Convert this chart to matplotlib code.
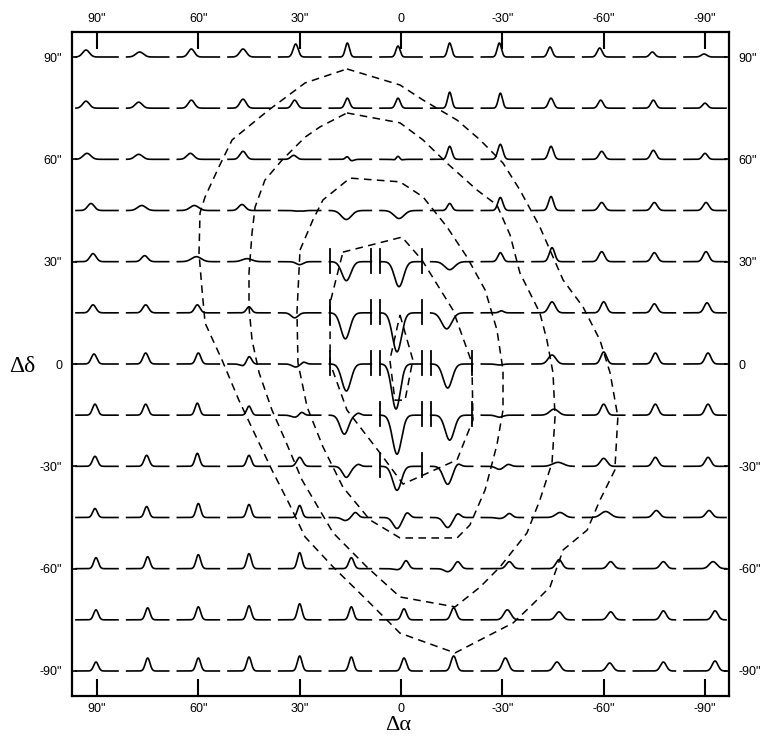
import numpy as np
import matplotlib
matplotlib.use("Agg")
import matplotlib.pyplot as plt

# Map grid offsets (arcsec)
ra_offsets = [90, 75, 60, 45, 30, 15, 0, -15, -30, -45, -60, -75, -90]
dec_offsets = [90, 75, 60, 45, 30, 15, 0, -15, -30, -45, -60, -75, -90]

tick_values = [90, 60, 30, 0, -30, -60, -90]
tick_labels = ['90"', '60"', '30"', '0', '-30"', '-60"', '-90"']

# Emission line per map position (rows: dec from +90 down, cols: ra from +90 to -90)
emission_peak = [
    [7, 5, 8, 8, 13, 14, 11, 14, 14, 10, 9, 5, 3],
    [7, 6, 8, 9, 8, 10, 10, 16, 15, 10, 8, 8, 5],
    [6, 5, 6, 8, 4, 3, 5, 13, 15, 13, 8, 9, 6],
    [7, 5, 5, 6, 1, 0, 0, 7, 13, 14, 8, 8, 8],
    [8, 6, 5, 3, 0, 0, 0, 0, 9, 14, 10, 9, 10],
    [8, 8, 8, 6, 0, 0, 0, 0, 2, 11, 11, 9, 10],
    [10, 11, 11, 8, 2, 0, 0, 0, 0, 9, 12, 11, 11],
    [11, 11, 12, 9, 3, 2, 0, 0, 0, 6, 11, 11, 11],
    [10, 11, 13, 11, 9, 2, 0, 3, 2, 4, 8, 9, 9],
    [9, 11, 14, 13, 12, 5, 5, 4, 4, 5, 6, 7, 7],
    [11, 12, 14, 15, 16, 11, 8, 7, 7, 9, 7, 7, 7],
    [10, 12, 13, 14, 16, 13, 11, 12, 10, 8, 8, 9, 9],
    [9, 13, 13, 14, 15, 14, 13, 15, 13, 9, 8, 9, 10],
]
emission_shift = [
    [-11, -8, -7, -6, -4, -3, -3, -2, -3, -3, -4, -2, -1],
    [-11, -9, -7, -6, -5, -3, -3, -2, -2, -2, -3, -1, 0],
    [-10, -9, -8, -6, -6, -3, -3, -2, -2, -2, -2, -1, 0],
    [-6, -6, -4, -7, 0, 0, 0, -2, -2, -2, -2, 0, 1],
    [-4, -3, -2, -2, 0, 0, 0, 0, -2, -1, -2, 0, 1],
    [-4, -2, -1, 0, 0, 0, 0, 0, -1, -1, 0, 0, 2],
    [-3, -2, 0, 0, 4, 0, 0, 0, 0, -1, 0, 1, 3],
    [-2, -2, -1, 0, 2, 8, 0, 0, 0, 1, 0, 1, 3],
    [-2, -1, -1, 0, 0, 8, 0, 6, 6, 5, 0, 1, 3],
    [-2, -1, 0, 0, 0, 5, 6, 6, 7, 7, 2, 2, 4],
    [-1, 0, 0, 0, 0, 1, 5, 6, 7, 6, 7, 9, 8],
    [-1, 0, 0, 0, 0, 1, 3, 2, 5, 6, 7, 9, 10],
    [-1, 0, 0, 0, 0, 1, 3, 2, 3, 4, 6, 9, 10],
]
emission_width = [
    [3.4, 3.8, 3.1, 3.3, 2.5, 2.1, 2.1, 2.1, 2.1, 2.3, 2.5, 2.5, 2.8],
    [3.3, 3.5, 3.1, 3.1, 2.7, 2.3, 2.3, 2.1, 2.1, 2.5, 2.5, 2.5, 2.5],
    [3.8, 3.8, 3.5, 3.1, 2.8, 1.8, 1.8, 2.3, 2.5, 2.5, 2.7, 2.7, 2.5],
    [3.3, 4.1, 4.3, 3.3, 2.3, 2.3, 2.3, 2.3, 2.5, 2.5, 2.9, 2.9, 2.9],
    [3.1, 3.1, 4.8, 4.8, 2.3, 2.3, 2.3, 2.3, 2.5, 2.7, 2.9, 2.9, 2.9],
    [2.9, 2.9, 2.7, 2.5, 2.3, 2.3, 2.3, 2.3, 2.3, 3.3, 2.9, 2.9, 2.9],
    [2.7, 2.7, 2.5, 2.5, 2.3, 2.3, 2.3, 2.3, 2.3, 3.8, 2.9, 2.9, 2.9],
    [2.5, 2.5, 2.3, 2.3, 2.3, 2.3, 2.3, 2.3, 2.3, 4.3, 2.9, 2.9, 2.9],
    [2.5, 2.5, 2.3, 2.3, 2.9, 2.3, 2.3, 2.8, 2.8, 5.3, 3.3, 2.9, 2.9],
    [2.3, 2.3, 2.3, 2.3, 2.3, 2.8, 2.8, 2.8, 2.8, 4.3, 4.8, 3.3, 3.1],
    [2.3, 2.3, 2.3, 2.3, 2.3, 2.5, 2.7, 2.9, 3.1, 3.1, 3.1, 3.1, 3.8],
    [2.3, 2.3, 2.3, 2.3, 2.3, 2.3, 2.5, 2.7, 3.5, 3.3, 3.1, 2.9, 2.9],
    [2.3, 2.3, 2.3, 2.3, 2.3, 2.3, 2.5, 2.7, 3.1, 3.3, 3.1, 2.9, 2.9],
]

# Absorption features: (dec, ra, depth, shift, width)
absorption = [
    (60, 15, 1.5, 1, 2.5), (60, 0, 2.0, -3, 3.0),
    (45, 30, 1.5, 0, 3.5), (45, 15, 9, -4, 5.0), (45, 0, 8, -2, 5.0),
    (30, 30, 3, 0, 3.5), (30, 15, 19, -4, 4.5), (30, 0, 25, -2, 4.5), (30, -15, 8, -2, 5.0),
    (15, 30, 5, -5, 3.5), (15, 15, 26, -5, 4.5), (15, 0, 39, -4, 4.5), (15, -15, 16, -5, 5.0),
    (0, 45, 2, -5, 3.5), (0, 30, 3, -4, 3.5), (0, 15, 27, -4, 4.5), (0, 0, 45, -5, 4.3),
    (0, -15, 24, -4, 4.5), (0, -30, 1, -3, 3.5),
    (-15, 30, 2, -5, 3.5), (-15, 15, 19, -6, 4.2), (-15, 0, 39, -4, 4.5), (-15, -15, 25, -2, 4.5),
    (-15, -30, 2, -3, 3.5),
    (-30, 15, 11, -4, 3.8), (-30, 0, 24, -4, 4.3), (-30, -15, 18, -4, 4.3), (-30, -30, 3, -3, 3.5),
    (-45, 15, 3, -5, 3.5), (-45, 0, 11, -4, 4.0), (-45, -15, 10, -4, 4.0), (-45, -30, 1, -3, 3.5),
    (-60, 0, 1, -4, 3.5), (-60, -15, 3, -4, 3.5),
]

# Positions shown with expanded intensity scale: (dec, ra)
expanded_cells = [(30, 15), (30, 0), (15, 15), (15, 0), (0, 15), (0, 0), (0, -15),
                  (-15, 0), (-15, -15), (-30, 0)]

# Contour levels (ra, dec in arcsec)
contour_1_ra = [16.0, 0.3, -6.5, -16.6, -23.4, -30.2, -35.2, -41.1, -48.0, -53.9, -58.9,
                -61.9, -64.2, -63.3, -58.9, -55.1, -48.0, -44.1, -38.2, -33.2, -16.0, 0.3,
                10.1, 20.1, 28.4, 33.2, 38.2, 42.0, 48.0, 53.0, 58.0, 58.9, 59.8, 59.5,
                58.0, 53.9, 50.0, 39.1, 28.4, 16.0]
contour_1_dec = [86.5, 81.8, 77.4, 71.5, 65.7, 58.9, 51.0, 40.2, 24.6, 16.7, 7.0, -2.6,
                 -15.5, -31.1, -39.9, -48.7, -54.5, -65.4, -71.2, -75.9, -84.7, -78.9,
                 -69.2, -59.5, -50.7, -40.8, -31.1, -23.2, -10.6, 1.2, 12.0, 21.7, 32.5,
                 44.3, 49.0, 57.8, 65.7, 74.5, 82.4, 86.5]
contour_2_ra = [16.0, 0.3, -6.5, -13.6, -22.5, -28.4, -32.3, -35.2, -41.1, -43.2, -45.0,
                -45.6, -44.7, -41.1, -37.3, -29.3, -23.4, -16.0, 0.3, 10.1, 20.1, 29.3,
                34.3, 38.2, 42.0, 44.1, 45.0, 45.0, 44.1, 43.2, 40.3, 35.2, 28.4, 24.0, 16.0]
contour_2_dec = [73.6, 70.7, 65.7, 58.9, 51.0, 46.6, 37.8, 26.7, 15.0, 7.0, -2.6, -15.5,
                 -29.0, -39.9, -49.5, -59.5, -65.4, -71.2, -68.3, -59.5, -49.5, -34.0,
                 -22.3, -13.5, -2.6, 7.0, 16.7, 26.7, 38.4, 46.0, 53.9, 59.8, 66.5, 69.5, 73.6]
contour_3_ra = [29.9, 26.1, 23.1, 15.1, 0.3, -6.5, -13.6, -19.5, -24.9, -28.4, -30.2, -30.2,
                -28.4, -24.9, -20.4, -16.6, 0.3, 9.2, 17.2, 23.1, 27.8, 30.5, 30.8, 29.9]
contour_3_dec = [33.4, 42.2, 48.1, 54.5, 53.4, 49.0, 40.2, 31.4, 21.7, 10.0, -1.8, -13.5,
                 -23.7, -36.9, -47.2, -51.0, -51.0, -45.7, -36.1, -24.3, -12.6, 0.3, 15.0, 33.4]
contour_4_ra = [17.2, -0.3, -6.2, -15.4, -21.0, -21.3, -16.6, -0.6, 6.2, 16.0, 21.0, 21.0, 17.2]
contour_4_dec = [32.8, 37.2, 30.5, 15.8, 0.3, -16.4, -28.1, -35.2, -26.1, -13.5, 0.3, 17.9, 32.8]
contour_5_ra = [0.3, -3.5, -1.2, 1.8, 3.3, 0.3]
contour_5_dec = [14.4, 1.2, -10.6, -10.6, 1.2, 14.4]

contours = [(contour_1_ra, contour_1_dec), (contour_2_ra, contour_2_dec),
            (contour_3_ra, contour_3_dec), (contour_4_ra, contour_4_dec),
            (contour_5_ra, contour_5_dec)]

# Drawing scale of each small spectrum (display pixels per arcsec of map)
PX_X = 3.378
PX_Y = 3.411
HALF = 21.0

plt.rcParams['font.family'] = ['Liberation Sans', 'DejaVu Sans']

fig = plt.figure(figsize=(7.63, 7.40), dpi=100)
ax = fig.add_axes([72 / 763, 1 - 696 / 740, 657 / 763, 664 / 740])
ax.set_xlim(97.4, -97.1)
ax.set_ylim(-97.33, 97.33)

u = np.linspace(-HALF, HALF, 301)


def gauss(x, c, s):
    return np.exp(-0.5 * ((x - c) / s) ** 2)


absorb_lookup = {(d, r): (depth, sh, w) for d, r, depth, sh, w in absorption}

for i, dec0 in enumerate(dec_offsets):
    for j, ra0 in enumerate(ra_offsets):
        prof = emission_peak[i][j] * gauss(u, emission_shift[i][j], emission_width[i][j])
        if (dec0, ra0) in absorb_lookup:
            depth, sh, w = absorb_lookup[(dec0, ra0)]
            prof = prof - depth * gauss(u, sh, w)
        ax.plot(ra0 - u / PX_X, dec0 + prof / PX_Y, color='black', lw=1.2,
                solid_joinstyle='round')
        if (dec0, ra0) in expanded_cells:
            for side in (-HALF + 0.3, HALF - 0.3):
                ax.plot([ra0 - side / PX_X] * 2,
                        [dec0 - 11 / PX_Y, dec0 + 13 / PX_Y],
                        color='black', lw=1.3)

for cra, cdec in contours:
    ax.plot(cra, cdec, color='black', lw=1.1, dashes=(5, 3.5))

ax.set_xticks(tick_values)
ax.set_xticklabels(tick_labels)
ax.set_yticks(tick_values)
ax.set_yticklabels(tick_labels)
ax.tick_params(axis='x', which='both', direction='in', length=12.5, width=1.5,
               top=True, bottom=True, labeltop=True, labelbottom=True,
               labelsize=9, pad=5)
ax.tick_params(axis='y', which='both', direction='in', length=3.6, width=1.2,
               left=True, right=True, labelleft=True, labelright=True,
               labelsize=9, pad=7)
for sp in ax.spines.values():
    sp.set_linewidth(1.6)

fig.text(398 / 763, 1 - 726 / 740, 'Δα', ha='center', va='center',
         fontsize=16, family='Liberation Serif')
fig.text(22 / 763, 1 - 366 / 740, 'Δδ', ha='center', va='center',
         fontsize=17, family='Liberation Serif')

fig.savefig('out.png', dpi=100)
